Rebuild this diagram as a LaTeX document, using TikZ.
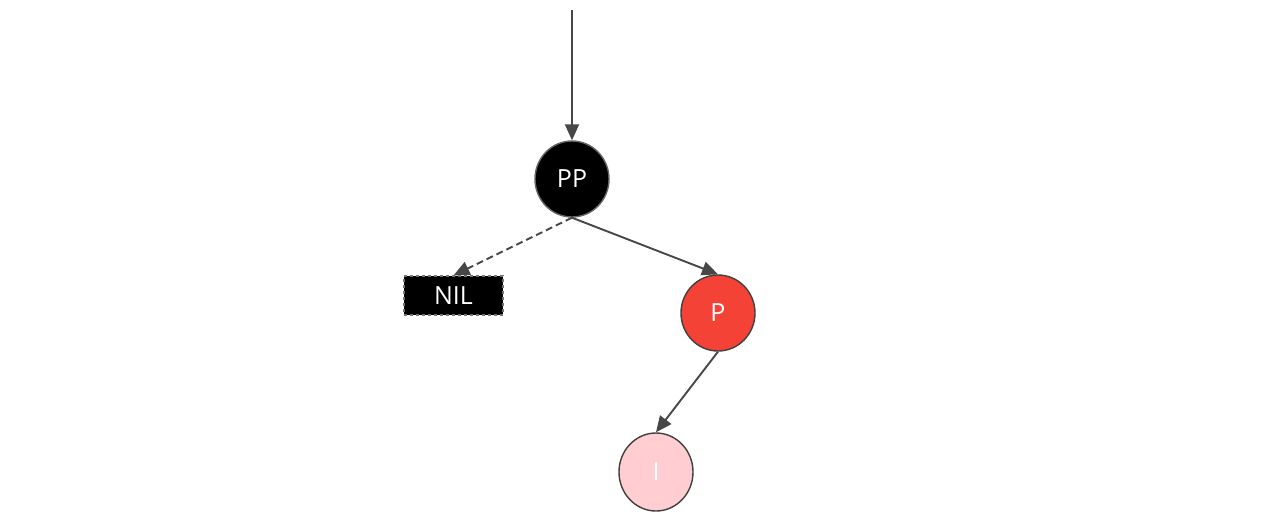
\documentclass[tikz,border=0pt]{standalone}
\usepackage{fontspec}
\setmainfont{Open Sans}
\usetikzlibrary{arrows.meta,shapes.geometric}
\definecolor{rbred}{RGB}{244,67,54}
\definecolor{rbpink}{RGB}{255,205,210}
\begin{document}
\begin{tikzpicture}[x=1pt,y=-1pt,
  rbnode/.style={ellipse, minimum width=74pt, minimum height=76pt, inner sep=0pt,
    draw=black!75, line width=1.4pt, text=white, font=\fontsize{25}{28}\selectfont},
  nilbox/.style={rectangle, minimum width=99pt, minimum height=39pt, inner sep=0pt,
    fill=black, draw=black!55, dashed, line width=1.2pt, text=white,
    font=\fontsize{25}{28}\selectfont},
  link/.style={draw=black!72, line width=1.9pt,
    -{Triangle[length=16pt,width=14pt]}},
]
\useasboundingbox (0,0) rectangle (1270,520);
\node[rbnode, fill=black, draw=black!60] (pp) at (572,179) {PP};
\node[nilbox] (nil) at (453.5,295.5) {NIL};
\node[rbnode, fill=rbred] (p) at (718,313) {P};
\node[rbnode, fill=rbpink, minimum height=78pt] (i) at (656,472) {I};
\coordinate (top) at (572,10);
\draw[link] (top) -- (pp.north);
\draw[link, dashed, dash pattern=on 7pt off 4pt] (pp.south) -- (nil.north);
\draw[link] (pp.south) -- (p.north);
\draw[link] (p.south) -- (i.north);
\end{tikzpicture}
\end{document}
